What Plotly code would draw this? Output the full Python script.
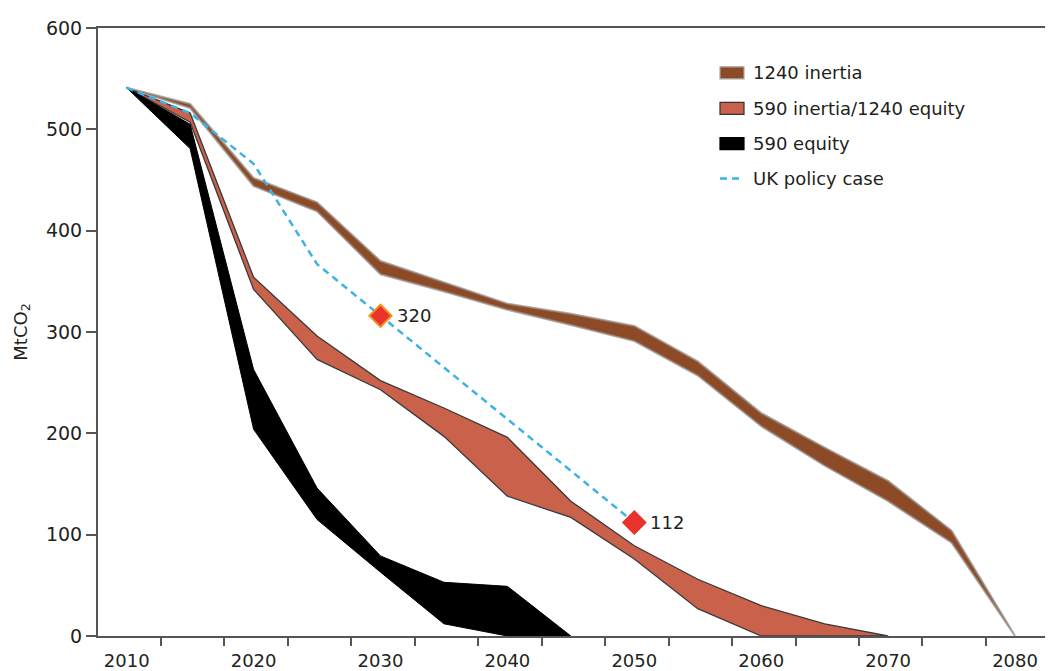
import plotly.graph_objects as go

# ---------------- data ----------------
years_1240_inertia = [2010, 2015, 2020, 2025, 2030, 2035, 2040, 2045, 2050, 2055, 2060, 2065, 2070, 2075, 2080]
upper_1240_inertia = [541, 525, 452, 428, 370, 349, 328, 318, 306, 271, 220, 186, 153, 104, 0]
lower_1240_inertia = [541, 521, 444, 419, 357, 340, 322, 307, 291, 257, 207, 168, 133, 92, 0]

years_590_inertia = [2010, 2015, 2020, 2025, 2030, 2035, 2040, 2045, 2050, 2055, 2060, 2065, 2070]
upper_590_inertia = [541, 516, 354, 296, 252, 225, 196, 133, 89, 56, 30, 12, 0]
lower_590_inertia = [541, 507, 342, 273, 243, 197, 138, 117, 76, 27, 0, 0, 0]

years_590_equity = [2010, 2015, 2020, 2025, 2030, 2035, 2040, 2045]
upper_590_equity = [541, 505, 263, 146, 79, 53, 49, 0]
lower_590_equity = [541, 481, 204, 115, 63, 12, 0, 0]

uk_years = [2010, 2015, 2020, 2025, 2030, 2050]
uk_values = [541, 516, 466, 367, 316, 112]

marker_years = [2030, 2050]
marker_values = [316, 112]
marker_labels = ["320", "112"]

series_names = ["1240 inertia", "590 inertia/1240 equity", "590 equity", "UK policy case"]

x_tick_labels = [2010, 2020, 2030, 2040, 2050, 2060, 2070, 2080]
y_tick_values = [0, 100, 200, 300, 400, 500, 600]

# ---------------- styles ----------------
FONT = "DejaVu Sans"
TXT = "#231f20"
AX = "#555555"
BROWN = "#8c4a27"
BROWN_EDGE = "rgba(150,140,135,0.75)"
RED = "#c9614b"
RED_EDGE = "#3a3a3a"
BLACK = "#000000"
BLUE = "#3bb3e6"
MK_FILL = "#e8322b"
MK_EDGE = ["#f68b1f", "#e8322b"]

fig = go.Figure()


def band(years, upper, lower, fill, edge, width, name):
    fig.add_trace(go.Scatter(
        x=list(years) + list(years)[::-1],
        y=list(upper) + list(lower)[::-1],
        mode="lines", fill="toself", fillcolor=fill,
        line=dict(color=edge, width=width),
        name=name, showlegend=False, hoverinfo="skip",
    ))


band(years_1240_inertia, upper_1240_inertia, lower_1240_inertia, BROWN, BROWN_EDGE, 2, series_names[0])
band(years_590_inertia, upper_590_inertia, lower_590_inertia, RED, RED_EDGE, 1.3, series_names[1])
band(years_590_equity, upper_590_equity, lower_590_equity, BLACK, BLACK, 1, series_names[2])

fig.add_trace(go.Scatter(
    x=uk_years, y=uk_values, mode="lines",
    line=dict(color=BLUE, width=2.5, dash="7px,5px"),
    name=series_names[3], showlegend=False, hoverinfo="skip",
))

fig.add_trace(go.Scatter(
    x=marker_years, y=marker_values, mode="markers",
    marker=dict(symbol="diamond", size=17, color=MK_FILL, line=dict(color=MK_EDGE, width=2)),
    showlegend=False, hoverinfo="skip", cliponaxis=False,
))
for xv, yv, lab in zip(marker_years, marker_values, marker_labels):
    fig.add_annotation(x=xv, y=yv, text=lab, showarrow=False, xanchor="left", yanchor="middle",
                       xshift=14, font=dict(family=FONT, size=18, color=TXT))

# ---------------- manual legend ----------------
PLOT_L, PLOT_R, PLOT_T, PLOT_B = 98, 1045, 28, 636


def px_x(p):
    return (p - PLOT_L) / (PLOT_R - PLOT_L)


def px_y(p):
    return (PLOT_B - p) / (PLOT_B - PLOT_T)


legend_rows = [72.8, 108.3, 143.6, 178.5]
swatch_fill = [BROWN, RED, BLACK]
swatch_edge = ["#a8a4a2", "#333333", BLACK]
for i in range(3):
    cy = legend_rows[i]
    fig.add_shape(type="rect", xref="paper", yref="paper",
                  x0=px_x(720), x1=px_x(744), y0=px_y(cy + 6), y1=px_y(cy - 6),
                  fillcolor=swatch_fill[i], line=dict(color=swatch_edge[i], width=1.2))
fig.add_shape(type="line", xref="paper", yref="paper",
              x0=px_x(720), x1=px_x(744), y0=px_y(legend_rows[3]), y1=px_y(legend_rows[3]),
              line=dict(color=BLUE, width=2.5, dash="7px,5px"))
for i, name in enumerate(series_names):
    fig.add_annotation(xref="paper", yref="paper", x=px_x(751), y=px_y(legend_rows[i]),
                       text=name, showarrow=False, xanchor="left", yanchor="middle",
                       font=dict(family=FONT, size=18, color=TXT))

# ---------------- layout ----------------
fig.update_layout(
    width=1048, height=671,
    margin=dict(l=PLOT_L, r=1048 - PLOT_R, t=PLOT_T, b=671 - PLOT_B, autoexpand=False),
    paper_bgcolor="white", plot_bgcolor="white",
    font=dict(family=FONT, size=18, color=TXT),
    showlegend=False,
    xaxis=dict(
        range=[2007.74, 2082.36], automargin=False,
        tickmode="array", tickvals=x_tick_labels, ticktext=[str(v) for v in x_tick_labels],
        ticks="", showgrid=False, zeroline=False,
        showline=True, linecolor=AX, linewidth=2, mirror=True,
        tickfont=dict(family=FONT, size=18, color=TXT),
        ticklabelstandoff=7,
        minor=dict(tickmode="array", tickvals=[2007.7 + 5 * k for k in range(15)],
                   ticks="outside", ticklen=8, tickwidth=1.5, tickcolor=AX, showgrid=False),
    ),
    yaxis=dict(
        range=[0, 600], automargin=False,
        tickmode="array", tickvals=y_tick_values,
        ticks="outside", ticklen=10, tickwidth=1.5, tickcolor=AX,
        showgrid=False, zeroline=False,
        showline=True, linecolor=AX, linewidth=2,
        tickfont=dict(family=FONT, size=19, color=TXT),
        title=dict(text="MtCO<sub>2</sub>", font=dict(family=FONT, size=18, color=TXT), standoff=14),
    ),
)

fig.write_html("out.html", config={"displayModeBar": False},
               post_script="document.body.style.margin='0';")
